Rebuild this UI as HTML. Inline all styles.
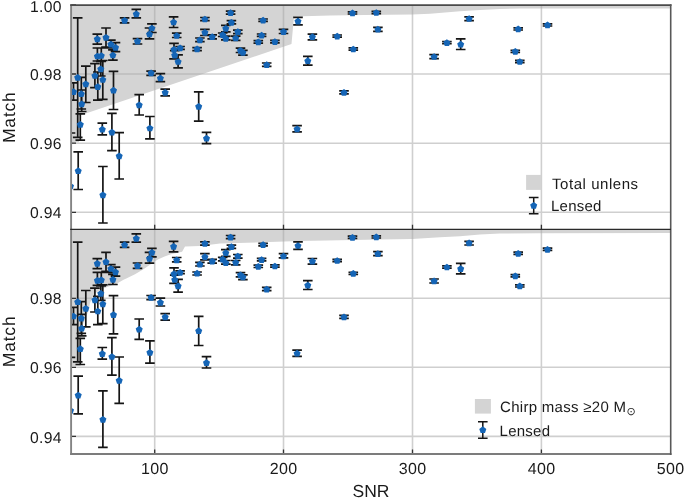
<!DOCTYPE html><html><head><meta charset="utf-8"><style>html,body{margin:0;padding:0;background:#fff;width:685px;height:498px;overflow:hidden}svg{display:block;will-change:transform;text-rendering:geometricPrecision}</style></head><body><svg width="685" height="498" viewBox="0 0 685 498">
<defs><clipPath id="clipA"><rect x="71" y="5" width="599.6" height="224.3"/></clipPath><clipPath id="clipB"><rect x="71" y="229.3" width="599.6" height="224.6"/></clipPath></defs>
<rect width="685" height="498" fill="#fff"/>
<g clip-path="url(#clipA)">
<polygon points="70.00,142.30 79.00,142.30 79.00,115.77 291.50,44.00 294.00,16.50 330.00,15.60 365.00,15.00 412.00,14.50 430.00,13.80 445.00,12.60 460.00,11.20 480.00,9.90 500.00,8.90 520.00,8.40 671.00,8.50 671.00,4.00 70.00,4.00" fill="#d4d4d4"/>
<path d="M154.7 5V229.5M283.5 5V229.5M412.5 5V229.5M541.4 5V229.5M71 74.0H670M71 143.2H670M71 212.3H670" stroke="#a8a8a8" stroke-opacity="0.55" stroke-width="1.6" fill="none"/>
<path d="M77.70 17.80V137.40M72.90 17.80H82.50M72.90 137.40H82.50M124.60 17.80V22.90M119.80 17.80H129.40M119.80 22.90H129.40M136.30 9.40V17.80M131.50 9.40H141.10M131.50 17.80H141.10M97.30 34.20V44.20M92.50 34.20H102.10M92.50 44.20H102.10M106.00 28.00V47.00M101.20 28.00H110.80M101.20 47.00H110.80M110.90 40.20V48.00M106.10 40.20H115.70M106.10 48.00H115.70M115.50 42.70V51.70M110.70 42.70H120.30M110.70 51.70H120.30M112.90 49.90V60.10M108.10 49.90H117.70M108.10 60.10H117.70M97.40 48.00V61.00M92.60 48.00H102.20M92.60 61.00H102.20M101.30 48.00V61.50M96.50 48.00H106.10M96.50 61.50H106.10M100.80 61.50V76.00M96.00 61.50H105.60M96.00 76.00H105.60M94.90 63.70V87.60M90.10 63.70H99.70M90.10 87.60H99.70M102.80 60.50V99.30M98.00 60.50H107.60M98.00 99.30H107.60M85.80 66.10V102.50M81.00 66.10H90.60M81.00 102.50H90.60M97.80 72.00V100.20M93.00 72.00H102.60M93.00 100.20H102.60M113.50 71.30V109.50M108.70 71.30H118.30M108.70 109.50H118.30M73.50 82.90V100.20M68.70 82.90H78.30M68.70 100.20H78.30M81.30 77.30V109.00M76.50 77.30H86.10M76.50 109.00H86.10M81.70 90.00V111.50M76.90 90.00H86.50M76.90 111.50H86.50M80.30 113.90V140.10M75.50 113.90H85.10M75.50 140.10H85.10M78.20 151.80V189.50M73.40 151.80H83.00M73.40 189.50H83.00M137.50 38.60V44.00M132.70 38.60H142.30M132.70 44.00H142.30M151.90 23.90V32.50M147.10 23.90H156.70M147.10 32.50H156.70M149.50 28.00V38.80M144.70 28.00H154.30M144.70 38.80H154.30M173.60 16.90V27.50M168.80 16.90H178.40M168.80 27.50H178.40M176.70 33.10V37.50M171.90 33.10H181.50M171.90 37.50H181.50M174.00 43.40V58.90M169.20 43.40H178.80M169.20 58.90H178.80M174.70 50.70V59.00M169.90 50.70H179.50M169.90 59.00H179.50M180.10 46.50V49.30M175.30 46.50H184.90M175.30 49.30H184.90M178.10 54.90V67.80M173.30 54.90H182.90M173.30 67.80H182.90M204.90 17.50V20.70M200.10 17.50H209.70M200.10 20.70H209.70M204.90 29.30V35.50M200.10 29.30H209.70M200.10 35.50H209.70M212.20 34.90V38.80M207.40 34.90H217.00M207.40 38.80H217.00M199.90 38.00V41.60M195.10 38.00H204.70M195.10 41.60H204.70M197.10 47.60V50.60M192.30 47.60H201.90M192.30 50.60H201.90M230.60 11.10V14.20M225.80 11.10H235.40M225.80 14.20H235.40M231.40 20.70V23.90M226.60 20.70H236.20M226.60 23.90H236.20M225.80 25.30V31.90M221.00 25.30H230.60M221.00 31.90H230.60M222.70 33.00V36.50M217.90 33.00H227.50M217.90 36.50H227.50M225.80 36.10V39.80M221.00 36.10H230.60M221.00 39.80H230.60M237.80 30.10V33.70M233.00 30.10H242.60M233.00 33.70H242.60M235.70 36.10V40.40M230.90 36.10H240.50M230.90 40.40H240.50M263.10 19.00V21.40M258.30 19.00H267.90M258.30 21.40H267.90M261.60 34.00V36.40M256.80 34.00H266.40M256.80 36.40H266.40M258.30 40.70V43.10M253.50 40.70H263.10M253.50 43.10H263.10M274.90 40.40V42.80M270.10 40.40H279.70M270.10 42.80H279.70M240.50 48.20V52.50M235.70 48.20H245.30M235.70 52.50H245.30M242.90 50.40V55.20M238.10 50.40H247.70M238.10 55.20H247.70M283.50 29.30V33.50M278.70 29.30H288.30M278.70 33.50H288.30M298.00 17.40V24.90M293.20 17.40H302.80M293.20 24.90H302.80M312.40 34.10V39.80M307.60 34.10H317.20M307.60 39.80H317.20M307.80 56.30V65.10M303.00 56.30H312.60M303.00 65.10H312.60M151.10 71.10V75.30M146.30 71.10H155.90M146.30 75.30H155.90M160.40 73.70V81.60M155.60 73.70H165.20M155.60 81.60H165.20M165.20 89.20V95.80M160.40 89.20H170.00M160.40 95.80H170.00M139.20 94.60V115.00M134.40 94.60H144.00M134.40 115.00H144.00M198.70 91.90V121.10M193.90 91.90H203.50M193.90 121.10H203.50M266.70 63.00V66.30M261.90 63.00H271.50M261.90 66.30H271.50M344.00 90.90V93.90M339.20 90.90H348.80M339.20 93.90H348.80M352.50 11.80V14.00M347.70 11.80H357.30M347.70 14.00H357.30M376.30 11.40V13.60M371.50 11.40H381.10M371.50 13.60H381.10M377.90 27.30V31.30M373.10 27.30H382.70M373.10 31.30H382.70M337.20 35.00V37.20M332.40 35.00H342.00M332.40 37.20H342.00M353.30 47.90V50.10M348.50 47.90H358.10M348.50 50.10H358.10M469.10 16.90V20.60M464.30 16.90H473.90M464.30 20.60H473.90M446.90 41.50V43.70M442.10 41.50H451.70M442.10 43.70H451.70M460.70 38.90V49.50M455.90 38.90H465.50M455.90 49.50H465.50M434.10 54.60V58.60M429.30 54.60H438.90M429.30 58.60H438.90M518.20 27.80V30.00M513.40 27.80H523.00M513.40 30.00H523.00M547.50 23.80V26.00M542.70 23.80H552.30M542.70 26.00H552.30M515.30 50.30V52.50M510.50 50.30H520.10M510.50 52.50H520.10M519.80 60.40V62.60M515.00 60.40H524.60M515.00 62.60H524.60M206.50 132.30V143.60M201.70 132.30H211.30M201.70 143.60H211.30M297.10 125.70V131.90M292.30 125.70H301.90M292.30 131.90H301.90M111.90 113.30V150.70M107.10 113.30H116.70M107.10 150.70H116.70M102.30 123.10V134.80M97.50 123.10H107.10M97.50 134.80H107.10M119.20 132.60V179.00M114.40 132.60H124.00M114.40 179.00H124.00M149.90 116.50V138.80M145.10 116.50H154.70M145.10 138.80H154.70M70.50 133.00V240.00M65.70 133.00H75.30M65.70 240.00H75.30M102.90 166.50V223.00M98.10 166.50H107.70M98.10 223.00H107.70" stroke="#151515" stroke-width="1.7" fill="none"/>
<polygon points="77.70,73.95 81.22,76.51 79.87,80.64 75.53,80.64 74.18,76.51" fill="#1565b6"/>
<polygon points="124.60,16.95 128.12,19.51 126.77,23.64 122.43,23.64 121.08,19.51" fill="#1565b6"/>
<polygon points="136.30,10.55 139.82,13.11 138.47,17.24 134.13,17.24 132.78,13.11" fill="#1565b6"/>
<polygon points="97.30,35.55 100.82,38.11 99.47,42.24 95.13,42.24 93.78,38.11" fill="#1565b6"/>
<polygon points="106.00,33.95 109.52,36.51 108.17,40.64 103.83,40.64 102.48,36.51" fill="#1565b6"/>
<polygon points="110.90,40.75 114.42,43.31 113.07,47.44 108.73,47.44 107.38,43.31" fill="#1565b6"/>
<polygon points="115.50,44.05 119.02,46.61 117.67,50.74 113.33,50.74 111.98,46.61" fill="#1565b6"/>
<polygon points="112.90,51.65 116.42,54.21 115.07,58.34 110.73,58.34 109.38,54.21" fill="#1565b6"/>
<polygon points="97.40,52.65 100.92,55.21 99.57,59.34 95.23,59.34 93.88,55.21" fill="#1565b6"/>
<polygon points="101.30,52.15 104.82,54.71 103.47,58.84 99.13,58.84 97.78,54.71" fill="#1565b6"/>
<polygon points="100.80,65.55 104.32,68.11 102.97,72.24 98.63,72.24 97.28,68.11" fill="#1565b6"/>
<polygon points="94.90,72.15 98.42,74.71 97.07,78.84 92.73,78.84 91.38,74.71" fill="#1565b6"/>
<polygon points="102.80,76.15 106.32,78.71 104.97,82.84 100.63,82.84 99.28,78.71" fill="#1565b6"/>
<polygon points="85.80,80.55 89.32,83.11 87.97,87.24 83.63,87.24 82.28,83.11" fill="#1565b6"/>
<polygon points="97.80,83.25 101.32,85.81 99.97,89.94 95.63,89.94 94.28,85.81" fill="#1565b6"/>
<polygon points="113.50,86.85 117.02,89.41 115.67,93.54 111.33,93.54 109.98,89.41" fill="#1565b6"/>
<polygon points="73.50,88.25 77.02,90.81 75.67,94.94 71.33,94.94 69.98,90.81" fill="#1565b6"/>
<polygon points="81.30,90.35 84.82,92.91 83.47,97.04 79.13,97.04 77.78,92.91" fill="#1565b6"/>
<polygon points="81.70,100.45 85.22,103.01 83.87,107.14 79.53,107.14 78.18,103.01" fill="#1565b6"/>
<polygon points="80.30,120.95 83.82,123.51 82.47,127.64 78.13,127.64 76.78,123.51" fill="#1565b6"/>
<polygon points="78.20,167.35 81.72,169.91 80.37,174.04 76.03,174.04 74.68,169.91" fill="#1565b6"/>
<polygon points="137.50,37.85 141.02,40.41 139.67,44.54 135.33,44.54 133.98,40.41" fill="#1565b6"/>
<polygon points="151.90,24.65 155.42,27.21 154.07,31.34 149.73,31.34 148.38,27.21" fill="#1565b6"/>
<polygon points="149.50,30.65 153.02,33.21 151.67,37.34 147.33,37.34 145.98,33.21" fill="#1565b6"/>
<polygon points="173.60,18.65 177.12,21.21 175.77,25.34 171.43,25.34 170.08,21.21" fill="#1565b6"/>
<polygon points="176.70,32.15 180.22,34.71 178.87,38.84 174.53,38.84 173.18,34.71" fill="#1565b6"/>
<polygon points="174.00,45.95 177.52,48.51 176.17,52.64 171.83,52.64 170.48,48.51" fill="#1565b6"/>
<polygon points="174.70,51.75 178.22,54.31 176.87,58.44 172.53,58.44 171.18,54.31" fill="#1565b6"/>
<polygon points="180.10,44.55 183.62,47.11 182.27,51.24 177.93,51.24 176.58,47.11" fill="#1565b6"/>
<polygon points="178.10,58.15 181.62,60.71 180.27,64.84 175.93,64.84 174.58,60.71" fill="#1565b6"/>
<polygon points="204.90,15.65 208.42,18.21 207.07,22.34 202.73,22.34 201.38,18.21" fill="#1565b6"/>
<polygon points="204.90,28.95 208.42,31.51 207.07,35.64 202.73,35.64 201.38,31.51" fill="#1565b6"/>
<polygon points="212.20,33.35 215.72,35.91 214.37,40.04 210.03,40.04 208.68,35.91" fill="#1565b6"/>
<polygon points="199.90,36.45 203.42,39.01 202.07,43.14 197.73,43.14 196.38,39.01" fill="#1565b6"/>
<polygon points="197.10,45.45 200.62,48.01 199.27,52.14 194.93,52.14 193.58,48.01" fill="#1565b6"/>
<polygon points="230.60,9.35 234.12,11.91 232.77,16.04 228.43,16.04 227.08,11.91" fill="#1565b6"/>
<polygon points="231.40,18.95 234.92,21.51 233.57,25.64 229.23,25.64 227.88,21.51" fill="#1565b6"/>
<polygon points="225.80,24.95 229.32,27.51 227.97,31.64 223.63,31.64 222.28,27.51" fill="#1565b6"/>
<polygon points="222.70,31.35 226.22,33.91 224.87,38.04 220.53,38.04 219.18,33.91" fill="#1565b6"/>
<polygon points="225.80,34.95 229.32,37.51 227.97,41.64 223.63,41.64 222.28,37.51" fill="#1565b6"/>
<polygon points="237.80,28.25 241.32,30.81 239.97,34.94 235.63,34.94 234.28,30.81" fill="#1565b6"/>
<polygon points="235.70,34.65 239.22,37.21 237.87,41.34 233.53,41.34 232.18,37.21" fill="#1565b6"/>
<polygon points="263.10,16.85 266.62,19.41 265.27,23.54 260.93,23.54 259.58,19.41" fill="#1565b6"/>
<polygon points="261.60,31.85 265.12,34.41 263.77,38.54 259.43,38.54 258.08,34.41" fill="#1565b6"/>
<polygon points="258.30,38.55 261.82,41.11 260.47,45.24 256.13,45.24 254.78,41.11" fill="#1565b6"/>
<polygon points="274.90,38.25 278.42,40.81 277.07,44.94 272.73,44.94 271.38,40.81" fill="#1565b6"/>
<polygon points="240.50,47.05 244.02,49.61 242.67,53.74 238.33,53.74 236.98,49.61" fill="#1565b6"/>
<polygon points="242.90,49.05 246.42,51.61 245.07,55.74 240.73,55.74 239.38,51.61" fill="#1565b6"/>
<polygon points="283.50,28.25 287.02,30.81 285.67,34.94 281.33,34.94 279.98,30.81" fill="#1565b6"/>
<polygon points="298.00,17.75 301.52,20.31 300.17,24.44 295.83,24.44 294.48,20.31" fill="#1565b6"/>
<polygon points="312.40,33.35 315.92,35.91 314.57,40.04 310.23,40.04 308.88,35.91" fill="#1565b6"/>
<polygon points="307.80,57.35 311.32,59.91 309.97,64.04 305.63,64.04 304.28,59.91" fill="#1565b6"/>
<polygon points="151.10,69.55 154.62,72.11 153.27,76.24 148.93,76.24 147.58,72.11" fill="#1565b6"/>
<polygon points="160.40,74.65 163.92,77.21 162.57,81.34 158.23,81.34 156.88,77.21" fill="#1565b6"/>
<polygon points="165.20,89.05 168.72,91.61 167.37,95.74 163.03,95.74 161.68,91.61" fill="#1565b6"/>
<polygon points="139.20,101.45 142.72,104.01 141.37,108.14 137.03,108.14 135.68,104.01" fill="#1565b6"/>
<polygon points="198.70,102.95 202.22,105.51 200.87,109.64 196.53,109.64 195.18,105.51" fill="#1565b6"/>
<polygon points="266.70,61.35 270.22,63.91 268.87,68.04 264.53,68.04 263.18,63.91" fill="#1565b6"/>
<polygon points="344.00,89.05 347.52,91.61 346.17,95.74 341.83,95.74 340.48,91.61" fill="#1565b6"/>
<polygon points="352.50,9.55 356.02,12.11 354.67,16.24 350.33,16.24 348.98,12.11" fill="#1565b6"/>
<polygon points="376.30,9.15 379.82,11.71 378.47,15.84 374.13,15.84 372.78,11.71" fill="#1565b6"/>
<polygon points="377.90,25.85 381.42,28.41 380.07,32.54 375.73,32.54 374.38,28.41" fill="#1565b6"/>
<polygon points="337.20,32.75 340.72,35.31 339.37,39.44 335.03,39.44 333.68,35.31" fill="#1565b6"/>
<polygon points="353.30,45.65 356.82,48.21 355.47,52.34 351.13,52.34 349.78,48.21" fill="#1565b6"/>
<polygon points="469.10,15.15 472.62,17.71 471.27,21.84 466.93,21.84 465.58,17.71" fill="#1565b6"/>
<polygon points="446.90,39.25 450.42,41.81 449.07,45.94 444.73,45.94 443.38,41.81" fill="#1565b6"/>
<polygon points="460.70,40.85 464.22,43.41 462.87,47.54 458.53,47.54 457.18,43.41" fill="#1565b6"/>
<polygon points="434.10,53.15 437.62,55.71 436.27,59.84 431.93,59.84 430.58,55.71" fill="#1565b6"/>
<polygon points="518.20,25.55 521.72,28.11 520.37,32.24 516.03,32.24 514.68,28.11" fill="#1565b6"/>
<polygon points="547.50,21.55 551.02,24.11 549.67,28.24 545.33,28.24 543.98,24.11" fill="#1565b6"/>
<polygon points="515.30,48.05 518.82,50.61 517.47,54.74 513.13,54.74 511.78,50.61" fill="#1565b6"/>
<polygon points="519.80,58.15 523.32,60.71 521.97,64.84 517.63,64.84 516.28,60.71" fill="#1565b6"/>
<polygon points="206.50,134.85 210.02,137.41 208.67,141.54 204.33,141.54 202.98,137.41" fill="#1565b6"/>
<polygon points="297.10,125.45 300.62,128.01 299.27,132.14 294.93,132.14 293.58,128.01" fill="#1565b6"/>
<polygon points="111.90,128.75 115.42,131.31 114.07,135.44 109.73,135.44 108.38,131.31" fill="#1565b6"/>
<polygon points="102.30,125.85 105.82,128.41 104.47,132.54 100.13,132.54 98.78,128.41" fill="#1565b6"/>
<polygon points="119.20,152.55 122.72,155.11 121.37,159.24 117.03,159.24 115.68,155.11" fill="#1565b6"/>
<polygon points="149.90,124.65 153.42,127.21 152.07,131.34 147.73,131.34 146.38,127.21" fill="#1565b6"/>
<polygon points="70.50,182.65 74.02,185.21 72.67,189.34 68.33,189.34 66.98,185.21" fill="#1565b6"/>
<polygon points="102.90,191.55 106.42,194.11 105.07,198.24 100.73,198.24 99.38,194.11" fill="#1565b6"/>
</g>
<path d="M71 5.0H76M71 74.0H76M71 143.2H76M71 212.3H76M154.7 229.2V224.7M283.5 229.2V224.7M412.5 229.2V224.7M541.4 229.2V224.7" stroke="#333" stroke-width="1.3" fill="none"/>
<g clip-path="url(#clipB)">
<polygon points="70.00,366.00 80.50,366.00 80.80,332.00 83.00,324.00 86.00,317.00 88.80,310.00 90.00,303.00 92.00,298.00 95.00,293.50 99.00,290.50 104.00,288.30 110.00,286.00 117.00,283.60 124.00,279.40 126.30,278.60 135.00,274.30 143.80,269.00 152.50,262.90 157.80,259.40 164.60,256.40 171.90,253.90 182.10,251.70 185.00,246.60 200.00,245.90 220.00,243.50 300.00,241.00 380.00,239.50 412.00,239.00 440.00,237.30 460.00,236.20 480.00,234.60 500.00,233.60 540.00,233.20 671.00,233.00 671.00,229.00 70.00,229.00" fill="#d4d4d4"/>
<path d="M154.7 229.4V453.9M283.5 229.4V453.9M412.5 229.4V453.9M541.4 229.4V453.9M71 298.3H670M71 367.3H670M71 436.4H670" stroke="#a8a8a8" stroke-opacity="0.55" stroke-width="1.6" fill="none"/>
<path d="M77.70 242.20V361.80M72.90 242.20H82.50M72.90 361.80H82.50M124.60 242.20V247.30M119.80 242.20H129.40M119.80 247.30H129.40M136.30 233.80V242.20M131.50 233.80H141.10M131.50 242.20H141.10M97.30 258.60V268.60M92.50 258.60H102.10M92.50 268.60H102.10M106.00 252.40V271.40M101.20 252.40H110.80M101.20 271.40H110.80M110.90 264.60V272.40M106.10 264.60H115.70M106.10 272.40H115.70M115.50 267.10V276.10M110.70 267.10H120.30M110.70 276.10H120.30M112.90 274.30V284.50M108.10 274.30H117.70M108.10 284.50H117.70M97.40 272.40V285.40M92.60 272.40H102.20M92.60 285.40H102.20M101.30 272.40V285.90M96.50 272.40H106.10M96.50 285.90H106.10M100.80 285.90V300.40M96.00 285.90H105.60M96.00 300.40H105.60M94.90 288.10V312.00M90.10 288.10H99.70M90.10 312.00H99.70M102.80 284.90V323.70M98.00 284.90H107.60M98.00 323.70H107.60M85.80 290.50V326.90M81.00 290.50H90.60M81.00 326.90H90.60M97.80 296.40V324.60M93.00 296.40H102.60M93.00 324.60H102.60M113.50 295.70V333.90M108.70 295.70H118.30M108.70 333.90H118.30M73.50 307.30V324.60M68.70 307.30H78.30M68.70 324.60H78.30M81.30 301.70V333.40M76.50 301.70H86.10M76.50 333.40H86.10M81.70 314.40V335.90M76.90 314.40H86.50M76.90 335.90H86.50M80.30 338.30V364.50M75.50 338.30H85.10M75.50 364.50H85.10M78.20 376.20V413.90M73.40 376.20H83.00M73.40 413.90H83.00M137.50 263.00V268.40M132.70 263.00H142.30M132.70 268.40H142.30M151.90 248.30V256.90M147.10 248.30H156.70M147.10 256.90H156.70M149.50 252.40V263.20M144.70 252.40H154.30M144.70 263.20H154.30M173.60 241.30V251.90M168.80 241.30H178.40M168.80 251.90H178.40M176.70 257.50V261.90M171.90 257.50H181.50M171.90 261.90H181.50M174.00 267.80V283.30M169.20 267.80H178.80M169.20 283.30H178.80M174.70 275.10V283.40M169.90 275.10H179.50M169.90 283.40H179.50M180.10 270.90V273.70M175.30 270.90H184.90M175.30 273.70H184.90M178.10 279.30V292.20M173.30 279.30H182.90M173.30 292.20H182.90M204.90 241.90V245.10M200.10 241.90H209.70M200.10 245.10H209.70M204.90 253.70V259.90M200.10 253.70H209.70M200.10 259.90H209.70M212.20 259.30V263.20M207.40 259.30H217.00M207.40 263.20H217.00M199.90 262.40V266.00M195.10 262.40H204.70M195.10 266.00H204.70M197.10 272.00V275.00M192.30 272.00H201.90M192.30 275.00H201.90M230.60 235.50V238.60M225.80 235.50H235.40M225.80 238.60H235.40M231.40 245.10V248.30M226.60 245.10H236.20M226.60 248.30H236.20M225.80 249.70V256.30M221.00 249.70H230.60M221.00 256.30H230.60M222.70 257.40V260.90M217.90 257.40H227.50M217.90 260.90H227.50M225.80 260.50V264.20M221.00 260.50H230.60M221.00 264.20H230.60M237.80 254.50V258.10M233.00 254.50H242.60M233.00 258.10H242.60M235.70 260.50V264.80M230.90 260.50H240.50M230.90 264.80H240.50M263.10 243.40V245.80M258.30 243.40H267.90M258.30 245.80H267.90M261.60 258.40V260.80M256.80 258.40H266.40M256.80 260.80H266.40M258.30 265.10V267.50M253.50 265.10H263.10M253.50 267.50H263.10M274.90 264.80V267.20M270.10 264.80H279.70M270.10 267.20H279.70M240.50 272.60V276.90M235.70 272.60H245.30M235.70 276.90H245.30M242.90 274.80V279.60M238.10 274.80H247.70M238.10 279.60H247.70M283.50 253.70V257.90M278.70 253.70H288.30M278.70 257.90H288.30M298.00 241.80V249.30M293.20 241.80H302.80M293.20 249.30H302.80M312.40 258.50V264.20M307.60 258.50H317.20M307.60 264.20H317.20M307.80 280.70V289.50M303.00 280.70H312.60M303.00 289.50H312.60M151.10 295.50V299.70M146.30 295.50H155.90M146.30 299.70H155.90M160.40 298.10V306.00M155.60 298.10H165.20M155.60 306.00H165.20M165.20 313.60V320.20M160.40 313.60H170.00M160.40 320.20H170.00M139.20 319.00V339.40M134.40 319.00H144.00M134.40 339.40H144.00M198.70 316.30V345.50M193.90 316.30H203.50M193.90 345.50H203.50M266.70 287.40V290.70M261.90 287.40H271.50M261.90 290.70H271.50M344.00 315.30V318.30M339.20 315.30H348.80M339.20 318.30H348.80M352.50 236.20V238.40M347.70 236.20H357.30M347.70 238.40H357.30M376.30 235.80V238.00M371.50 235.80H381.10M371.50 238.00H381.10M377.90 251.70V255.70M373.10 251.70H382.70M373.10 255.70H382.70M337.20 259.40V261.60M332.40 259.40H342.00M332.40 261.60H342.00M353.30 272.30V274.50M348.50 272.30H358.10M348.50 274.50H358.10M469.10 241.30V245.00M464.30 241.30H473.90M464.30 245.00H473.90M446.90 265.90V268.10M442.10 265.90H451.70M442.10 268.10H451.70M460.70 263.30V273.90M455.90 263.30H465.50M455.90 273.90H465.50M434.10 279.00V283.00M429.30 279.00H438.90M429.30 283.00H438.90M518.20 252.20V254.40M513.40 252.20H523.00M513.40 254.40H523.00M547.50 248.20V250.40M542.70 248.20H552.30M542.70 250.40H552.30M515.30 274.70V276.90M510.50 274.70H520.10M510.50 276.90H520.10M519.80 284.80V287.00M515.00 284.80H524.60M515.00 287.00H524.60M206.50 356.70V368.00M201.70 356.70H211.30M201.70 368.00H211.30M297.10 350.10V356.30M292.30 350.10H301.90M292.30 356.30H301.90M111.90 337.70V375.10M107.10 337.70H116.70M107.10 375.10H116.70M102.30 347.50V359.20M97.50 347.50H107.10M97.50 359.20H107.10M119.20 357.00V403.40M114.40 357.00H124.00M114.40 403.40H124.00M149.90 340.90V363.20M145.10 340.90H154.70M145.10 363.20H154.70M70.50 357.40V464.40M65.70 357.40H75.30M65.70 464.40H75.30M102.90 390.90V447.40M98.10 390.90H107.70M98.10 447.40H107.70" stroke="#151515" stroke-width="1.7" fill="none"/>
<polygon points="77.70,298.35 81.22,300.91 79.87,305.04 75.53,305.04 74.18,300.91" fill="#1565b6"/>
<polygon points="124.60,241.35 128.12,243.91 126.77,248.04 122.43,248.04 121.08,243.91" fill="#1565b6"/>
<polygon points="136.30,234.95 139.82,237.51 138.47,241.64 134.13,241.64 132.78,237.51" fill="#1565b6"/>
<polygon points="97.30,259.95 100.82,262.51 99.47,266.64 95.13,266.64 93.78,262.51" fill="#1565b6"/>
<polygon points="106.00,258.35 109.52,260.91 108.17,265.04 103.83,265.04 102.48,260.91" fill="#1565b6"/>
<polygon points="110.90,265.15 114.42,267.71 113.07,271.84 108.73,271.84 107.38,267.71" fill="#1565b6"/>
<polygon points="115.50,268.45 119.02,271.01 117.67,275.14 113.33,275.14 111.98,271.01" fill="#1565b6"/>
<polygon points="112.90,276.05 116.42,278.61 115.07,282.74 110.73,282.74 109.38,278.61" fill="#1565b6"/>
<polygon points="97.40,277.05 100.92,279.61 99.57,283.74 95.23,283.74 93.88,279.61" fill="#1565b6"/>
<polygon points="101.30,276.55 104.82,279.11 103.47,283.24 99.13,283.24 97.78,279.11" fill="#1565b6"/>
<polygon points="100.80,289.95 104.32,292.51 102.97,296.64 98.63,296.64 97.28,292.51" fill="#1565b6"/>
<polygon points="94.90,296.55 98.42,299.11 97.07,303.24 92.73,303.24 91.38,299.11" fill="#1565b6"/>
<polygon points="102.80,300.55 106.32,303.11 104.97,307.24 100.63,307.24 99.28,303.11" fill="#1565b6"/>
<polygon points="85.80,304.95 89.32,307.51 87.97,311.64 83.63,311.64 82.28,307.51" fill="#1565b6"/>
<polygon points="97.80,307.65 101.32,310.21 99.97,314.34 95.63,314.34 94.28,310.21" fill="#1565b6"/>
<polygon points="113.50,311.25 117.02,313.81 115.67,317.94 111.33,317.94 109.98,313.81" fill="#1565b6"/>
<polygon points="73.50,312.65 77.02,315.21 75.67,319.34 71.33,319.34 69.98,315.21" fill="#1565b6"/>
<polygon points="81.30,314.75 84.82,317.31 83.47,321.44 79.13,321.44 77.78,317.31" fill="#1565b6"/>
<polygon points="81.70,324.85 85.22,327.41 83.87,331.54 79.53,331.54 78.18,327.41" fill="#1565b6"/>
<polygon points="80.30,345.35 83.82,347.91 82.47,352.04 78.13,352.04 76.78,347.91" fill="#1565b6"/>
<polygon points="78.20,391.75 81.72,394.31 80.37,398.44 76.03,398.44 74.68,394.31" fill="#1565b6"/>
<polygon points="137.50,262.25 141.02,264.81 139.67,268.94 135.33,268.94 133.98,264.81" fill="#1565b6"/>
<polygon points="151.90,249.05 155.42,251.61 154.07,255.74 149.73,255.74 148.38,251.61" fill="#1565b6"/>
<polygon points="149.50,255.05 153.02,257.61 151.67,261.74 147.33,261.74 145.98,257.61" fill="#1565b6"/>
<polygon points="173.60,243.05 177.12,245.61 175.77,249.74 171.43,249.74 170.08,245.61" fill="#1565b6"/>
<polygon points="176.70,256.55 180.22,259.11 178.87,263.24 174.53,263.24 173.18,259.11" fill="#1565b6"/>
<polygon points="174.00,270.35 177.52,272.91 176.17,277.04 171.83,277.04 170.48,272.91" fill="#1565b6"/>
<polygon points="174.70,276.15 178.22,278.71 176.87,282.84 172.53,282.84 171.18,278.71" fill="#1565b6"/>
<polygon points="180.10,268.95 183.62,271.51 182.27,275.64 177.93,275.64 176.58,271.51" fill="#1565b6"/>
<polygon points="178.10,282.55 181.62,285.11 180.27,289.24 175.93,289.24 174.58,285.11" fill="#1565b6"/>
<polygon points="204.90,240.05 208.42,242.61 207.07,246.74 202.73,246.74 201.38,242.61" fill="#1565b6"/>
<polygon points="204.90,253.35 208.42,255.91 207.07,260.04 202.73,260.04 201.38,255.91" fill="#1565b6"/>
<polygon points="212.20,257.75 215.72,260.31 214.37,264.44 210.03,264.44 208.68,260.31" fill="#1565b6"/>
<polygon points="199.90,260.85 203.42,263.41 202.07,267.54 197.73,267.54 196.38,263.41" fill="#1565b6"/>
<polygon points="197.10,269.85 200.62,272.41 199.27,276.54 194.93,276.54 193.58,272.41" fill="#1565b6"/>
<polygon points="230.60,233.75 234.12,236.31 232.77,240.44 228.43,240.44 227.08,236.31" fill="#1565b6"/>
<polygon points="231.40,243.35 234.92,245.91 233.57,250.04 229.23,250.04 227.88,245.91" fill="#1565b6"/>
<polygon points="225.80,249.35 229.32,251.91 227.97,256.04 223.63,256.04 222.28,251.91" fill="#1565b6"/>
<polygon points="222.70,255.75 226.22,258.31 224.87,262.44 220.53,262.44 219.18,258.31" fill="#1565b6"/>
<polygon points="225.80,259.35 229.32,261.91 227.97,266.04 223.63,266.04 222.28,261.91" fill="#1565b6"/>
<polygon points="237.80,252.65 241.32,255.21 239.97,259.34 235.63,259.34 234.28,255.21" fill="#1565b6"/>
<polygon points="235.70,259.05 239.22,261.61 237.87,265.74 233.53,265.74 232.18,261.61" fill="#1565b6"/>
<polygon points="263.10,241.25 266.62,243.81 265.27,247.94 260.93,247.94 259.58,243.81" fill="#1565b6"/>
<polygon points="261.60,256.25 265.12,258.81 263.77,262.94 259.43,262.94 258.08,258.81" fill="#1565b6"/>
<polygon points="258.30,262.95 261.82,265.51 260.47,269.64 256.13,269.64 254.78,265.51" fill="#1565b6"/>
<polygon points="274.90,262.65 278.42,265.21 277.07,269.34 272.73,269.34 271.38,265.21" fill="#1565b6"/>
<polygon points="240.50,271.45 244.02,274.01 242.67,278.14 238.33,278.14 236.98,274.01" fill="#1565b6"/>
<polygon points="242.90,273.45 246.42,276.01 245.07,280.14 240.73,280.14 239.38,276.01" fill="#1565b6"/>
<polygon points="283.50,252.65 287.02,255.21 285.67,259.34 281.33,259.34 279.98,255.21" fill="#1565b6"/>
<polygon points="298.00,242.15 301.52,244.71 300.17,248.84 295.83,248.84 294.48,244.71" fill="#1565b6"/>
<polygon points="312.40,257.75 315.92,260.31 314.57,264.44 310.23,264.44 308.88,260.31" fill="#1565b6"/>
<polygon points="307.80,281.75 311.32,284.31 309.97,288.44 305.63,288.44 304.28,284.31" fill="#1565b6"/>
<polygon points="151.10,293.95 154.62,296.51 153.27,300.64 148.93,300.64 147.58,296.51" fill="#1565b6"/>
<polygon points="160.40,299.05 163.92,301.61 162.57,305.74 158.23,305.74 156.88,301.61" fill="#1565b6"/>
<polygon points="165.20,313.45 168.72,316.01 167.37,320.14 163.03,320.14 161.68,316.01" fill="#1565b6"/>
<polygon points="139.20,325.85 142.72,328.41 141.37,332.54 137.03,332.54 135.68,328.41" fill="#1565b6"/>
<polygon points="198.70,327.35 202.22,329.91 200.87,334.04 196.53,334.04 195.18,329.91" fill="#1565b6"/>
<polygon points="266.70,285.75 270.22,288.31 268.87,292.44 264.53,292.44 263.18,288.31" fill="#1565b6"/>
<polygon points="344.00,313.45 347.52,316.01 346.17,320.14 341.83,320.14 340.48,316.01" fill="#1565b6"/>
<polygon points="352.50,233.95 356.02,236.51 354.67,240.64 350.33,240.64 348.98,236.51" fill="#1565b6"/>
<polygon points="376.30,233.55 379.82,236.11 378.47,240.24 374.13,240.24 372.78,236.11" fill="#1565b6"/>
<polygon points="377.90,250.25 381.42,252.81 380.07,256.94 375.73,256.94 374.38,252.81" fill="#1565b6"/>
<polygon points="337.20,257.15 340.72,259.71 339.37,263.84 335.03,263.84 333.68,259.71" fill="#1565b6"/>
<polygon points="353.30,270.05 356.82,272.61 355.47,276.74 351.13,276.74 349.78,272.61" fill="#1565b6"/>
<polygon points="469.10,239.55 472.62,242.11 471.27,246.24 466.93,246.24 465.58,242.11" fill="#1565b6"/>
<polygon points="446.90,263.65 450.42,266.21 449.07,270.34 444.73,270.34 443.38,266.21" fill="#1565b6"/>
<polygon points="460.70,265.25 464.22,267.81 462.87,271.94 458.53,271.94 457.18,267.81" fill="#1565b6"/>
<polygon points="434.10,277.55 437.62,280.11 436.27,284.24 431.93,284.24 430.58,280.11" fill="#1565b6"/>
<polygon points="518.20,249.95 521.72,252.51 520.37,256.64 516.03,256.64 514.68,252.51" fill="#1565b6"/>
<polygon points="547.50,245.95 551.02,248.51 549.67,252.64 545.33,252.64 543.98,248.51" fill="#1565b6"/>
<polygon points="515.30,272.45 518.82,275.01 517.47,279.14 513.13,279.14 511.78,275.01" fill="#1565b6"/>
<polygon points="519.80,282.55 523.32,285.11 521.97,289.24 517.63,289.24 516.28,285.11" fill="#1565b6"/>
<polygon points="206.50,359.25 210.02,361.81 208.67,365.94 204.33,365.94 202.98,361.81" fill="#1565b6"/>
<polygon points="297.10,349.85 300.62,352.41 299.27,356.54 294.93,356.54 293.58,352.41" fill="#1565b6"/>
<polygon points="111.90,353.15 115.42,355.71 114.07,359.84 109.73,359.84 108.38,355.71" fill="#1565b6"/>
<polygon points="102.30,350.25 105.82,352.81 104.47,356.94 100.13,356.94 98.78,352.81" fill="#1565b6"/>
<polygon points="119.20,376.95 122.72,379.51 121.37,383.64 117.03,383.64 115.68,379.51" fill="#1565b6"/>
<polygon points="149.90,349.05 153.42,351.61 152.07,355.74 147.73,355.74 146.38,351.61" fill="#1565b6"/>
<polygon points="70.50,407.05 74.02,409.61 72.67,413.74 68.33,413.74 66.98,409.61" fill="#1565b6"/>
<polygon points="102.90,415.95 106.42,418.51 105.07,422.64 100.73,422.64 99.38,418.51" fill="#1565b6"/>
</g>
<path d="M71 298.3H76M71 367.3H76M71 436.4H76M154.7 453.9V449.4M283.5 453.9V449.4M412.5 453.9V449.4M541.4 453.9V449.4" stroke="#333" stroke-width="1.3" fill="none"/>
<path d="M71.1 4.2V454.9" stroke="#848484" stroke-width="1.9" fill="none"/>
<path d="M70.2 453.9H671.5" stroke="#7c7c7c" stroke-width="2" fill="none"/>
<path d="M70.2 5.1H671.5" stroke="#4a4a4a" stroke-width="1.7" fill="none"/>
<path d="M670.7 4.2V454.9" stroke="#585858" stroke-width="1.6" fill="none"/>
<path d="M70.2 229.3H671" stroke="#2a2a2a" stroke-width="1.3" fill="none"/>
<text x="154.89999999999998" y="473.8" font-family="Liberation Sans, sans-serif" font-size="16" letter-spacing="0.35" fill="#1a1a1a" text-anchor="middle">100</text>
<text x="283.7" y="473.8" font-family="Liberation Sans, sans-serif" font-size="16" letter-spacing="0.35" fill="#1a1a1a" text-anchor="middle">200</text>
<text x="412.7" y="473.8" font-family="Liberation Sans, sans-serif" font-size="16" letter-spacing="0.35" fill="#1a1a1a" text-anchor="middle">300</text>
<text x="541.6" y="473.8" font-family="Liberation Sans, sans-serif" font-size="16" letter-spacing="0.35" fill="#1a1a1a" text-anchor="middle">400</text>
<text x="670.6" y="473.8" font-family="Liberation Sans, sans-serif" font-size="16" letter-spacing="0.35" fill="#1a1a1a" text-anchor="middle">500</text>
<text x="61.9" y="12.0" font-family="Liberation Sans, sans-serif" font-size="15.7" letter-spacing="0.35" fill="#1a1a1a" text-anchor="end">1.00</text>
<text x="61.9" y="80.1" font-family="Liberation Sans, sans-serif" font-size="15.7" letter-spacing="0.35" fill="#1a1a1a" text-anchor="end">0.98</text>
<text x="61.9" y="149.29999999999998" font-family="Liberation Sans, sans-serif" font-size="15.7" letter-spacing="0.35" fill="#1a1a1a" text-anchor="end">0.96</text>
<text x="61.9" y="218.4" font-family="Liberation Sans, sans-serif" font-size="15.7" letter-spacing="0.35" fill="#1a1a1a" text-anchor="end">0.94</text>
<text x="61.9" y="304.40000000000003" font-family="Liberation Sans, sans-serif" font-size="15.7" letter-spacing="0.35" fill="#1a1a1a" text-anchor="end">0.98</text>
<text x="61.9" y="373.40000000000003" font-family="Liberation Sans, sans-serif" font-size="15.7" letter-spacing="0.35" fill="#1a1a1a" text-anchor="end">0.96</text>
<text x="61.9" y="442.5" font-family="Liberation Sans, sans-serif" font-size="15.7" letter-spacing="0.35" fill="#1a1a1a" text-anchor="end">0.94</text>
<text x="371" y="497.4" font-family="Liberation Sans, sans-serif" font-size="17.5" fill="#1a1a1a" text-anchor="middle">SNR</text>
<text transform="translate(14.6 117.2) rotate(-90)" x="0" y="0" font-family="Liberation Sans, sans-serif" font-size="17.5" letter-spacing="0.8" fill="#1a1a1a" text-anchor="middle">Match</text>
<text transform="translate(14.6 341.4) rotate(-90)" x="0" y="0" font-family="Liberation Sans, sans-serif" font-size="17.5" letter-spacing="0.8" fill="#1a1a1a" text-anchor="middle">Match</text>
<rect x="526.1" y="174.9" width="15.2" height="15" fill="#d4d4d4"/>
<text x="552" y="188.8" font-family="Liberation Sans, sans-serif" font-size="15" letter-spacing="0.55" fill="#1a1a1a">Total unlens</text>
<path d="M533.7 197.4V213.79999999999998M528.9000000000001 197.4H538.5M528.9000000000001 213.79999999999998H538.5" stroke="#151515" stroke-width="1.5" fill="none"/><polygon points="533.70,201.95 537.22,204.51 535.87,208.64 531.53,208.64 530.18,204.51" fill="#1565b6"/>
<text x="551" y="211.4" font-family="Liberation Sans, sans-serif" font-size="15" letter-spacing="0.25" fill="#1a1a1a">Lensed</text>
<rect x="474.9" y="399" width="16" height="14.6" fill="#d4d4d4"/>
<text x="500" y="412.4" font-family="Liberation Sans, sans-serif" font-size="15" letter-spacing="0.3" fill="#1a1a1a">Chirp mass ≥20 M<tspan font-size="11" dy="3">⊙</tspan></text>
<path d="M482.8 421.8V438.2M478.0 421.8H487.6M478.0 438.2H487.6" stroke="#151515" stroke-width="1.5" fill="none"/><polygon points="482.80,426.35 486.32,428.91 484.97,433.04 480.63,433.04 479.28,428.91" fill="#1565b6"/>
<text x="499.6" y="435.5" font-family="Liberation Sans, sans-serif" font-size="15" letter-spacing="0.25" fill="#1a1a1a">Lensed</text>
</svg></body></html>
